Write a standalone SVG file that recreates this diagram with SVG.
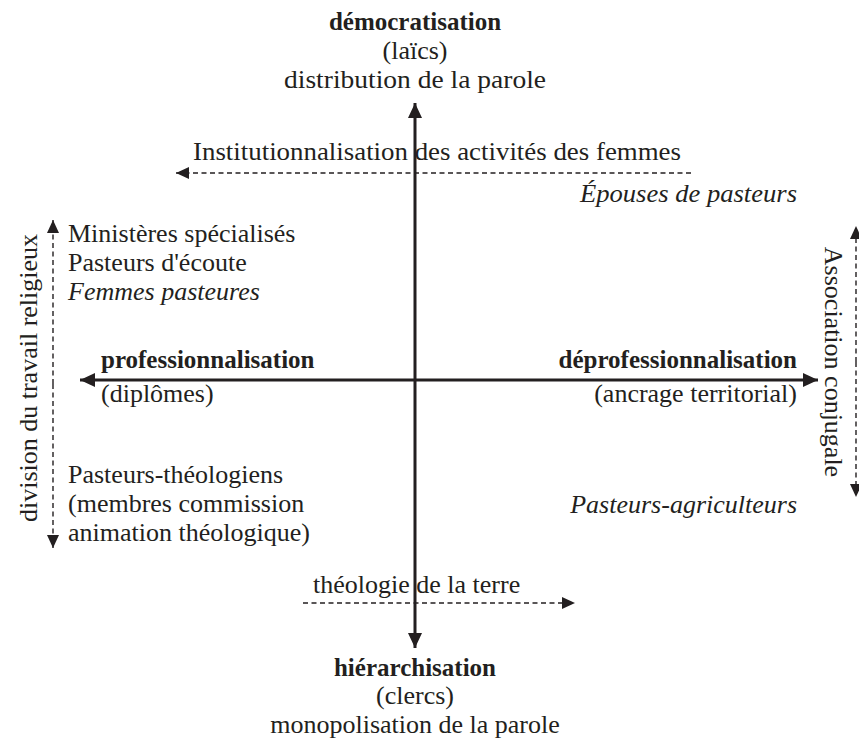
<svg xmlns="http://www.w3.org/2000/svg" width="859" height="744" viewBox="0 0 859 744">
<style>
text{font-family:"Liberation Serif","Times New Roman",serif;font-size:26px;fill:#231f20}
.b{font-weight:bold;font-size:25px}
.i{font-style:italic}
.m{text-anchor:middle}
.e{text-anchor:end}
.axis{stroke:#231f20;stroke-width:3;fill:none}
.dash{stroke:#231f20;stroke-width:1.4;stroke-dasharray:5 3.5;fill:none}
</style>
<defs>
<marker id="ah" markerUnits="userSpaceOnUse" markerWidth="16" markerHeight="16" refX="15" refY="8" orient="auto">
<path d="M0,1 L15,8 L0,15 Z" fill="#231f20"/>
</marker>
<marker id="dh" markerUnits="userSpaceOnUse" markerWidth="14" markerHeight="14" refX="13" refY="7" orient="auto">
<path d="M0,1 L13,7 L0,13 Z" fill="#231f20"/>
</marker>
</defs>
<g id="connectors">
<line class="axis" x1="415" y1="380" x2="415" y2="103" marker-end="url(#ah)"/>
<line class="axis" x1="415" y1="380" x2="415" y2="648" marker-end="url(#ah)"/>
<line class="axis" x1="415" y1="380" x2="80" y2="380" marker-end="url(#ah)"/>
<line class="axis" x1="415" y1="380" x2="818" y2="380" marker-end="url(#ah)"/>
<line class="dash" x1="691" y1="173" x2="176" y2="173" marker-end="url(#dh)"/>
<line class="dash" x1="303" y1="603" x2="575" y2="603" marker-end="url(#dh)"/>
<line class="dash" x1="53" y1="384" x2="53" y2="220" marker-end="url(#dh)"/>
<line class="dash" x1="53" y1="384" x2="53" y2="548" marker-end="url(#dh)"/>
<line class="dash" x1="856" y1="362" x2="856" y2="226" marker-end="url(#dh)"/>
<line class="dash" x1="856" y1="362" x2="856" y2="497" marker-end="url(#dh)"/>
</g>
<g id="top">
<text class="b m" x="415" y="30">démocratisation</text>
<text class="m" x="415" y="59">(laïcs)</text>
<text class="m" x="415" y="88" textLength="262" lengthAdjust="spacingAndGlyphs">distribution de la parole</text>
</g>
<g id="institutionnalisation">
<text x="193" y="160" textLength="488" lengthAdjust="spacingAndGlyphs">Institutionnalisation des activités des femmes</text>
</g>
<g id="epouses">
<text class="i e" x="797" y="202" textLength="217" lengthAdjust="spacingAndGlyphs">Épouses de pasteurs</text>
</g>
<g id="division">
<text class="m" transform="translate(37,378) rotate(-90)">division du travail religieux</text>
</g>
<g id="ministeres">
<text x="68" y="242">Ministères spécialisés</text>
<text x="68" y="271">Pasteurs d'écoute</text>
<text class="i" x="68" y="300">Femmes pasteures</text>
</g>
<g id="left">
<text class="b" x="101" y="368">professionnalisation</text>
<text x="101" y="402">(diplômes)</text>
</g>
<g id="right">
<text class="b e" x="797" y="368">déprofessionnalisation</text>
<text class="e" x="797" y="402">(ancrage territorial)</text>
</g>
<g id="association">
<text class="m" transform="translate(825,362) rotate(90)">Association conjugale</text>
</g>
<g id="theologiens">
<text x="68" y="483">Pasteurs-théologiens</text>
<text x="68" y="512">(membres commission</text>
<text x="68" y="541">animation théologique)</text>
</g>
<g id="agriculteurs">
<text class="i e" x="797" y="513">Pasteurs-agriculteurs</text>
</g>
<g id="theologie">
<text x="313" y="593">théologie de la terre</text>
</g>
<g id="bottom">
<text class="b m" x="415" y="676">hiérarchisation</text>
<text class="m" x="415" y="704">(clercs)</text>
<text class="m" x="415" y="733">monopolisation de la parole</text>
</g>
</svg>
